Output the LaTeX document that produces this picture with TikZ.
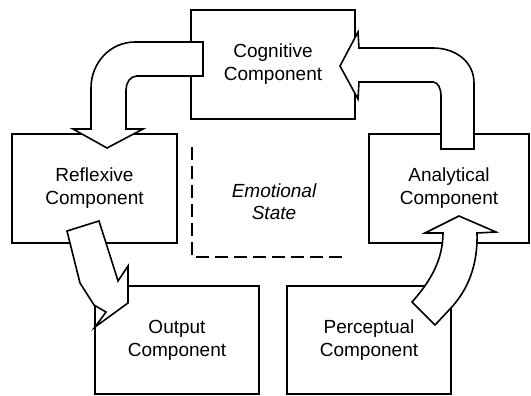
\documentclass[tikz,border=0pt]{standalone}
\usepackage{fontspec}
\setmainfont{Liberation Sans}
\usepackage{tikz}

\begin{document}
\begin{tikzpicture}[x=1pt,y=-1pt,
    comp/.style={draw, line width=1.6pt, minimum width=164pt, minimum height=109pt,
        align=center, font=\fontsize{19}{23}\selectfont},
    bigarrow/.style={draw, fill=white, line width=1.6pt},
    emoline/.style={line width=1.6pt, dash pattern=on 13pt off 6pt}]
    \useasboundingbox (0,0) rectangle (531,396);

    % Components
    \node[comp] (cog) at (273,64.5) {Cognitive\\Component};
    \node[comp, minimum width=165pt] (refl) at (94.5,188.5) {Reflexive\\Component};
    \node[comp, minimum width=160pt] (anal) at (449,188.5) {Analytical\\Component};
    \node[comp, minimum height=108pt] (outp) at (177,340) {Output\\Component};
    \node[comp, minimum height=108pt] (perc) at (369,340) {Perceptual\\Component};

    % Emotional state
    \draw[emoline] (192,147) |- (343,257);
    \node[align=center, font=\itshape\fontsize{19}{22}\selectfont] (emo) at (274,202) {Emotional\\State};

    % Cognitive -> Reflexive
    \draw[bigarrow] (203,42) -- (135,42) .. controls (110,42) and (91,63) .. (91,88)
        -- (91,129) -- (73,129) -- (107,148) -- (143,129) -- (126,129)
        -- (126,90) .. controls (126,83) and (130,76) .. (137,76) -- (203,76) -- cycle;

    % Analytical -> Cognitive
    \draw[bigarrow] (441,149) -- (441,95) .. controls (441,89) and (438,82) .. (433,82)
        -- (359,82) -- (358,99) -- (340,66) -- (358,32) -- (359,48) -- (433,48)
        .. controls (456,48) and (474,62) .. (474,83) -- (474,149) -- cycle;

    % Reflexive -> Output
    \draw[bigarrow] (67,231) -- (99,221) -- (113,265) -- (118,281) -- (128,266)
        -- (128,303) -- (95,327) -- (106,312) -- (94,305) -- (80,283) -- cycle;

    % Perceptual -> Analytical
    \draw[bigarrow] (459,216) -- (496,232) -- (477,233)
        .. controls (478,265) and (468,290) .. (450,309) -- (435,325) -- (412,302)
        .. controls (430,282) and (443,260) .. (443,233) -- (425,233) -- cycle;
\end{tikzpicture}
\end{document}
